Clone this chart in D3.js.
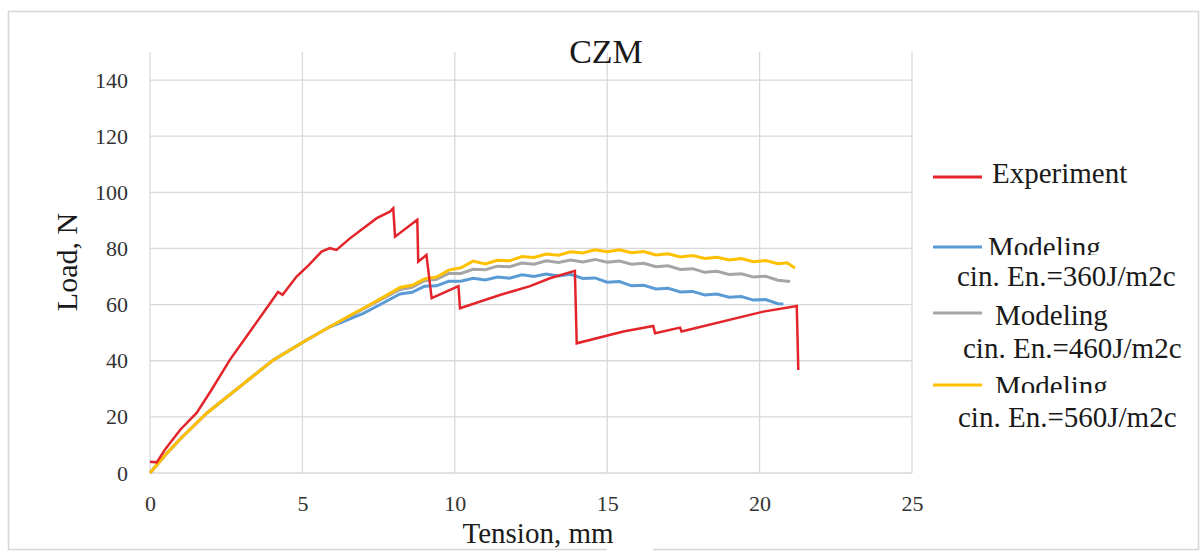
<!DOCTYPE html>
<html>
<head>
<meta charset="utf-8">
<script src="https://cdn.jsdelivr.net/npm/d3@7/dist/d3.min.js"></script>
<style>
  html, body { margin: 0; padding: 0; background: #fff; }
  svg { display: block; }
  svg text { font-family: "Liberation Serif", "Times New Roman", serif !important; }
</style>
</head>
<body>
<svg id="chart" width="1203" height="554"></svg>
<script>
// Tension (mm) / load (N) pairs
const experiment = [
  [0, 4.0], [0.22, 3.8], [0.5, 8.5], [1.0, 15.5], [1.53, 21.4], [2.0, 29.3],
  [2.62, 40.3], [3.3, 50.7], [3.94, 60.5], [4.2, 64.5], [4.35, 63.5], [4.81, 70.0],
  [5.2, 74.0], [5.63, 78.9], [5.9, 80.1], [6.12, 79.5], [6.56, 83.6], [7.0, 87.2],
  [7.44, 90.8], [7.87, 93.1], [7.98, 94.3], [8.04, 84.2], [8.77, 90.2], [8.8, 75.3],
  [9.07, 77.7], [9.24, 62.3], [10.12, 66.6], [10.17, 58.7], [11.48, 63.4], [12.47, 66.6],
  [13.12, 69.4], [13.94, 72.0], [14.0, 46.2], [15.53, 50.4], [16.51, 52.4], [16.57, 49.8],
  [17.39, 51.8], [17.44, 50.4], [20.12, 57.5], [21.22, 59.5], [21.27, 36.7]
];
const model360 = [
  [0, 0], [0.5, 6.4], [1.0, 12.2], [1.86, 21.3], [2.95, 30.8], [4.05, 40.3],
  [5.14, 47.4], [5.9, 52.1], [6.3, 53.8], [7.0, 56.9], [7.6, 60.3], [8.2, 63.8],
  [8.6, 64.4], [9.0, 66.5], [9.4, 66.7], [9.8, 68.3], [10.2, 68.3], [10.6, 69.4],
  [11.0, 68.8], [11.4, 69.8], [11.8, 69.4], [12.2, 70.6], [12.6, 70.0], [13.0, 70.9],
  [13.4, 70.2], [13.8, 70.8], [14.2, 69.3], [14.6, 69.5], [15.0, 68.0], [15.4, 68.2],
  [15.8, 66.7], [16.2, 66.9], [16.6, 65.6], [17.0, 65.8], [17.4, 64.5], [17.8, 64.7],
  [18.2, 63.4], [18.6, 63.8], [19.0, 62.6], [19.4, 62.9], [19.8, 61.6], [20.2, 61.8],
  [20.6, 60.3], [20.78, 60.2]
];
const model460 = [
  [0, 0], [0.5, 6.4], [1.0, 12.2], [1.86, 21.3], [2.95, 30.8], [4.05, 40.3],
  [5.14, 47.4], [5.9, 52.1], [7.0, 58.5], [7.6, 61.9], [8.2, 65.4], [8.6, 66.2],
  [9.0, 68.5], [9.4, 69.0], [9.8, 71.1], [10.2, 71.1], [10.6, 72.6], [11.0, 72.4],
  [11.4, 73.7], [11.8, 73.5], [12.2, 74.8], [12.6, 74.4], [13.0, 75.6], [13.4, 75.0],
  [13.8, 75.9], [14.2, 75.2], [14.6, 76.1], [15.0, 75.1], [15.4, 75.5], [15.8, 74.4],
  [16.2, 74.7], [16.6, 73.5], [17.0, 73.8], [17.4, 72.5], [17.8, 72.8], [18.2, 71.5],
  [18.6, 71.9], [19.0, 70.7], [19.4, 71.0], [19.8, 69.8], [20.2, 70.1], [20.6, 68.7],
  [21.0, 68.2]
];
const model560 = [
  [0, 0], [0.5, 6.4], [1.0, 12.2], [1.86, 21.3], [2.95, 30.8], [4.05, 40.3],
  [5.14, 47.4], [5.9, 52.1], [6.6, 56.4], [7.0, 58.7], [7.6, 62.3], [8.2, 66.1],
  [8.6, 66.9], [9.0, 69.1], [9.4, 69.8], [9.8, 72.3], [10.2, 73.1], [10.6, 75.5],
  [11.0, 74.5], [11.4, 75.8], [11.8, 75.6], [12.2, 77.1], [12.6, 76.8], [13.0, 78.0],
  [13.4, 77.6], [13.8, 78.8], [14.2, 78.4], [14.6, 79.5], [15.0, 78.8], [15.4, 79.5],
  [15.8, 78.5], [16.2, 78.9], [16.6, 77.7], [17.0, 78.1], [17.4, 77.0], [17.8, 77.5],
  [18.2, 76.4], [18.6, 76.9], [19.0, 75.9], [19.4, 76.4], [19.8, 75.3], [20.2, 75.7],
  [20.6, 74.6], [20.9, 74.9], [21.16, 73.0]
];

const xTicks = [0, 5, 10, 15, 20, 25];
const yTicks = [0, 20, 40, 60, 80, 100, 120, 140];

const seriesColors = ["#e3252b", "#5b9bd5", "#a5a5a5", "#ffc000"];

const FONT = '"Liberation Serif", "Times New Roman", serif';
const svg = d3.select("#chart");

const x = d3.scaleLinear().domain([0, 25]).range([150, 912]);
const y = d3.scaleLinear().domain([0, 150]).range([473, 52]);

// chart frame (with the small break under the axis title)
svg.append("path")
  .attr("d", "M607,549.5 H8.5 V11.5 H1198.5 V549.5 H653")
  .attr("fill", "none").attr("stroke", "#d6d6d6").attr("stroke-width", 1.6);

// gridlines
const grid = svg.append("g").attr("stroke", "#d9d9d9").attr("stroke-width", 1.3);
grid.selectAll("line.h").data(yTicks).join("line").attr("class", "h")
  .attr("x1", x(0)).attr("x2", x(25))
  .attr("y1", d => y(d)).attr("y2", d => y(d));
grid.selectAll("line.v").data(xTicks).join("line").attr("class", "v")
  .attr("y1", y(0)).attr("y2", y(150))
  .attr("x1", d => x(d)).attr("x2", d => x(d));

// axes (labels only)
const yAxis = d3.axisLeft(y).tickValues(yTicks).tickSize(0).tickPadding(22);
svg.append("g").attr("transform", `translate(${x(0)},0)`).call(yAxis)
  .attr("font-family", null).attr("font-size", null)
  .call(g => g.select(".domain").remove())
  .call(g => g.selectAll("text")
    .style("font-family", FONT).style("font-size", "22px").attr("fill", "#333"));

const xAxis = d3.axisBottom(x).tickValues(xTicks).tickSize(0).tickPadding(22);
svg.append("g").attr("transform", `translate(0,${y(0)})`).call(xAxis)
  .attr("font-family", null).attr("font-size", null)
  .call(g => g.select(".domain").remove())
  .call(g => g.selectAll("text")
    .style("font-family", FONT).style("font-size", "22px").attr("fill", "#333"));

// series
const line = d3.line().x(d => x(d[0])).y(d => y(d[1]));
const allSeries = [experiment, model360, model460, model560];
const widths = [2.5, 3, 3, 3];
[1, 2, 3, 0].forEach(i => {
  svg.append("path")
    .datum(allSeries[i])
    .attr("d", line)
    .attr("fill", "none")
    .attr("stroke", seriesColors[i])
    .attr("stroke-width", widths[i])
    .attr("stroke-linejoin", "miter")
    .attr("stroke-miterlimit", 10);
});

// titles
svg.append("text").attr("x", 606).attr("y", 63).attr("text-anchor", "middle")
  .style("font-family", FONT).style("font-size", "34px").attr("fill", "#1a1a1a").text("CZM");
svg.append("text").attr("transform", "translate(77,262) rotate(-90)")
  .attr("text-anchor", "middle").style("font-family", FONT).style("font-size", "30px")
  .attr("fill", "#1a1a1a").text("Load, N");
svg.append("text").attr("x", 538).attr("y", 543).attr("text-anchor", "middle")
  .style("font-family", FONT).style("font-size", "29px").attr("fill", "#1a1a1a").text("Tension, mm");

// legend
const defs = svg.append("defs");
defs.append("clipPath").attr("id", "clipA").append("rect")
  .attr("x", 950).attr("y", 225).attr("width", 250).attr("height", 30);
defs.append("clipPath").attr("id", "clipB").append("rect")
  .attr("x", 950).attr("y", 365).attr("width", 250).attr("height", 28);

const legend = svg.append("g").attr("fill", "#1a1a1a");
const legendRows = [
  { key: 0, lineY: 177, texts: [{ t: "Experiment", x: 992, y: 183 }] },
  { key: 1, lineY: 247, texts: [{ t: "Modeling", x: 988, y: 257, clip: "clipA" }, { t: "cin. En.=360J/m2c", x: 957, y: 286 }] },
  { key: 2, lineY: 313, texts: [{ t: "Modeling", x: 995, y: 325 }, { t: "cin. En.=460J/m2c", x: 963, y: 358 }] },
  { key: 3, lineY: 385, texts: [{ t: "Modeling", x: 995, y: 396, clip: "clipB" }, { t: "cin. En.=560J/m2c", x: 958, y: 427 }] }
];
legendRows.forEach(r => {
  legend.append("line")
    .attr("x1", 933).attr("x2", 982).attr("y1", r.lineY).attr("y2", r.lineY)
    .attr("stroke", seriesColors[r.key]).attr("stroke-width", 3);
  r.texts.forEach(tt => {
    const t = legend.append("text").attr("x", tt.x).attr("y", tt.y)
      .style("font-family", FONT).style("font-size", "29px").text(tt.t);
    if (tt.clip) t.attr("clip-path", `url(#${tt.clip})`);
  });
});
</script>
</body>
</html>
